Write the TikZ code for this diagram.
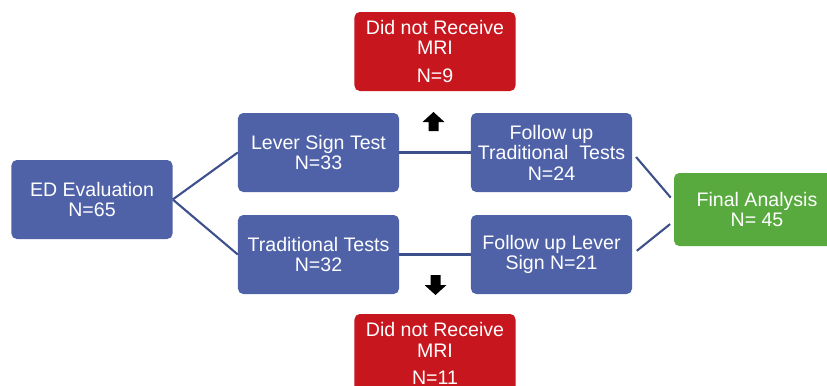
\documentclass[tikz,border=0pt]{standalone}
\usepackage{fontspec}
\setmainfont{Liberation Sans}
\usetikzlibrary{positioning}
\definecolor{boxblue}{RGB}{79,98,168}
\definecolor{boxred}{RGB}{200,22,30}
\definecolor{boxgreen}{RGB}{88,170,62}
\definecolor{linkblue}{RGB}{62,80,140}

\begin{document}
\begin{tikzpicture}[x=0.03cm,y=-0.03cm,
  every text node part/.style={align=center},
  stage/.style={draw=none, rounded corners=4.5pt, text=white, inner sep=0pt,
    minimum width=4.83cm, minimum height=2.37cm, font=\fontsize{16.7}{17.5}\selectfont},
  link/.style={draw=linkblue, line width=1.8pt}]
  \useasboundingbox (0,0) rectangle (827,386);
  \clip (0,0) rectangle (827,386);
  \node (ed) [stage, fill=boxblue] at (92,199.5) {ED Evaluation\\N=65};
  \node (lever) [stage, fill=boxblue] at (318.5,152.5) {Lever Sign Test\\N=33};
  \node (trad) [stage, fill=boxblue] at (318.5,254.5) {Traditional Tests\\N=32};
  \node (futrad) [stage, fill=boxblue] at (551.5,152.5) {Follow up\\Traditional~~Tests\\N=24};
  \node (fulever) [stage, fill=boxblue] at (551.5,254.5) {Follow up Lever\\Sign N=21};
  \node (final) [stage, fill=boxgreen, minimum width=4.98cm, minimum height=2.19cm] at (757,209.5) {Final Analysis\\N= 45};
  \node (norm1) [stage, fill=boxred] at (435,51.5) {Did not Receive\\MRI\\[6pt]N=9};
  \node (norm2) [stage, fill=boxred] at (435,353.5) {Did not Receive\\MRI\\[6pt]N=11};
  \coordinate (up) at (433.5,121);
  \coordinate (down) at (435.5,285);
  \draw[link] (ed.east) -- (lever.west);
  \draw[link] (ed.east) -- (trad.west);
  \draw[link] (lever.east) -- (futrad.west);
  \draw[link] (trad.east) -- (fulever.west);
  \draw[link, shorten <=5pt, shorten >=4pt] (futrad.east) -- ([yshift=0.25cm]final.west);
  \draw[link, shorten <=5pt, shorten >=4pt] (fulever.east) -- ([yshift=-0.35cm]final.west);
  \fill[shift={(up)}] (0,-9) -- (11,1) -- (5,1) -- (5,10) -- (-5,10) -- (-5,1) -- (-11,1) -- cycle;
  \fill[shift={(down)}] (0,10) -- (11,0) -- (5,0) -- (5,-10) -- (-5,-10) -- (-5,0) -- (-11,0) -- cycle;
\end{tikzpicture}
\end{document}
